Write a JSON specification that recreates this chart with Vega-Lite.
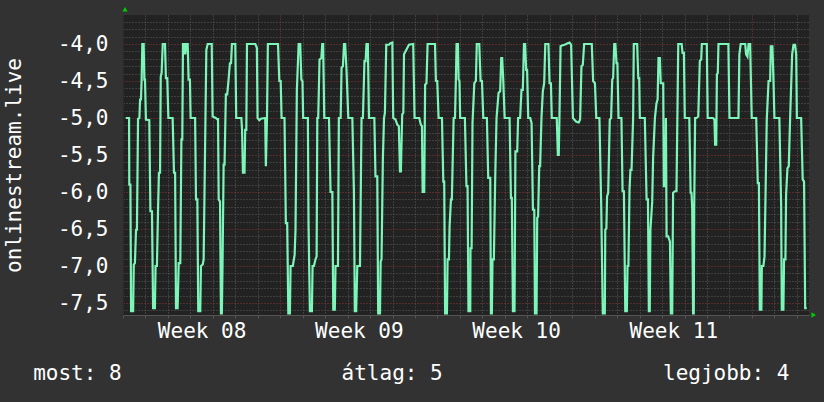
{
 "$schema": "https://vega.github.io/schema/vega-lite/v6.json",
 "width": 686,
 "height": 300,
 "autosize": {"type": "none"},
 "padding": {"left": 123, "top": 15, "right": 15, "bottom": 87},
 "background": "#323232",
 "config": {"view": {"fill": "#222222", "stroke": null}, "font": "DejaVu Sans Mono"},
 "resolve": {"axis": {"x": "independent", "y": "independent"}},
 "datasets": {
  "series": [
{"t":0.12,"v":-5},{"t":0.27,"v":-5},{"t":0.28,"v":-5.9},{"t":0.33,"v":-5.9},{"t":0.36,"v":-7.61},{"t":0.45,"v":-7.61},{"t":0.48,"v":-6.98},{"t":0.53,"v":-6.96},{"t":0.58,"v":-6.51},{"t":0.62,"v":-6.51},{"t":0.67,"v":-5.01},{"t":0.73,"v":-5},{"t":0.76,"v":-4.75},{"t":0.8,"v":-4.75},{"t":0.83,"v":-4.48},{"t":0.86,"v":-4},{"t":0.92,"v":-4},{"t":0.95,"v":-4.48},{"t":0.98,"v":-4.48},{"t":1.02,"v":-5.02},{"t":1.17,"v":-5.03},{"t":1.22,"v":-6.26},{"t":1.29,"v":-6.26},{"t":1.34,"v":-7.57},{"t":1.42,"v":-7.57},{"t":1.45,"v":-7},{"t":1.51,"v":-7},{"t":1.56,"v":-6.24},{"t":1.6,"v":-5.74},{"t":1.65,"v":-5.74},{"t":1.68,"v":-4.44},{"t":1.72,"v":-4.39},{"t":1.77,"v":-4},{"t":1.87,"v":-4},{"t":1.91,"v":-4.46},{"t":1.97,"v":-4.46},{"t":2.02,"v":-5},{"t":2.21,"v":-5},{"t":2.27,"v":-5.74},{"t":2.32,"v":-5.74},{"t":2.36,"v":-7.57},{"t":2.43,"v":-7.57},{"t":2.48,"v":-6.96},{"t":2.55,"v":-6.96},{"t":2.6,"v":-5.29},{"t":2.64,"v":-5.29},{"t":2.67,"v":-4},{"t":2.73,"v":-4},{"t":2.77,"v":-4.14},{"t":2.82,"v":-4},{"t":2.88,"v":-4},{"t":2.92,"v":-4.48},{"t":2.98,"v":-4.48},{"t":3.01,"v":-5},{"t":3.21,"v":-5},{"t":3.25,"v":-6.1},{"t":3.31,"v":-6.1},{"t":3.35,"v":-7.61},{"t":3.44,"v":-7.61},{"t":3.47,"v":-7},{"t":3.55,"v":-6.98},{"t":3.59,"v":-6.91},{"t":3.65,"v":-5.5},{"t":3.71,"v":-4.08},{"t":3.77,"v":-4},{"t":3.95,"v":-4},{"t":3.99,"v":-4.98},{"t":4.13,"v":-5},{"t":4.21,"v":-5.02},
{"t":4.23,"v":-5},{"t":4.26,"v":-6.1},{"t":4.32,"v":-6.13},{"t":4.36,"v":-7.64},{"t":4.4,"v":-7.64},{"t":4.43,"v":-7},{"t":4.48,"v":-5.63},{"t":4.52,"v":-5.63},{"t":4.58,"v":-4.68},{"t":4.64,"v":-4.68},{"t":4.7,"v":-4.48},{"t":4.76,"v":-4.26},{"t":4.81,"v":-4.26},{"t":4.85,"v":-4},{"t":5,"v":-4},{"t":5.04,"v":-5},{"t":5.27,"v":-5},{"t":5.3,"v":-5.16},{"t":5.34,"v":-5.74},{"t":5.41,"v":-5.74},{"t":5.44,"v":-5.16},{"t":5.49,"v":-5.16},{"t":5.52,"v":-4},{"t":5.89,"v":-4},{"t":5.96,"v":-4.05},{"t":5.99,"v":-5},{"t":6.07,"v":-5.03},{"t":6.14,"v":-5.01},{"t":6.33,"v":-5},{"t":6.36,"v":-5.65},{"t":6.41,"v":-5},{"t":6.45,"v":-4},{"t":6.9,"v":-4},{"t":6.96,"v":-4.5},{"t":7.02,"v":-4.5},{"t":7.06,"v":-5},{"t":7.19,"v":-5},{"t":7.25,"v":-6.42},{"t":7.31,"v":-6.42},{"t":7.36,"v":-7.64},{"t":7.43,"v":-7.64},{"t":7.46,"v":-7},{"t":7.56,"v":-7},{"t":7.64,"v":-6.85},{"t":7.68,"v":-6.51},{"t":7.74,"v":-4.62},{"t":7.82,"v":-4},{"t":7.89,"v":-4},{"t":7.94,"v":-4.48},{"t":7.99,"v":-4.5},{"t":8.02,"v":-5},{"t":8.23,"v":-5},{"t":8.26,"v":-6.44},{"t":8.32,"v":-7.61},{"t":8.41,"v":-7.61},{"t":8.44,"v":-7},{"t":8.5,"v":-7},{"t":8.57,"v":-6.91},{"t":8.62,"v":-6.87},{"t":8.65,"v":-5},{"t":8.69,"v":-5},{"t":8.75,"v":-4.21},{"t":8.83,"v":-4.19},{"t":8.87,"v":-4},{"t":8.91,"v":-4},{"t":8.96,"v":-5},{"t":9.17,"v":-5},{"t":9.24,"v":-6},{"t":9.32,"v":-6},{"t":9.36,"v":-7.59},{"t":9.43,"v":-7.59},{"t":9.46,"v":-7},{"t":9.57,"v":-7},{"t":9.61,"v":-5},{"t":9.69,"v":-5},{"t":9.73,"v":-4.32},{"t":9.79,"v":-4.3},{"t":9.84,"v":-4},{"t":9.89,"v":-4},{"t":9.95,"v":-4.35},{"t":10.03,"v":-5},{"t":10.21,"v":-5},{"t":10.28,"v":-5.99},{"t":10.32,"v":-7.61},{"t":10.38,"v":-7.61},{"t":10.43,"v":-7},{"t":10.55,"v":-7},{"t":10.62,"v":-5},{"t":10.68,"v":-5},{"t":10.75,"v":-4.23},{"t":10.8,"v":-4.23},{"t":10.84,"v":-4},{"t":10.9,"v":-4},{"t":10.95,"v":-5},{"t":11.19,"v":-5},{"t":11.24,"v":-5.79},{"t":11.32,"v":-5.79},{"t":11.36,"v":-7.64},{"t":11.44,"v":-7.64},{"t":11.47,"v":-6.94},{"t":11.51,"v":-6.91},{"t":11.57,"v":-5.54},{"t":11.62,"v":-5},{"t":11.66,"v":-4.93},{"t":11.72,"v":-4.01},{"t":11.84,"v":-4.01},{"t":11.91,"v":-3.99},{"t":11.99,"v":-3.98},{"t":12.03,"v":-5},{"t":12.13,"v":-5.02},{"t":12.21,"v":-5.09},{"t":12.28,"v":-5.11},{"t":12.33,"v":-5.72},{"t":12.37,"v":-5.72},{"t":12.43,"v":-4.95},{"t":12.48,"v":-4.93},{"t":12.51,"v":-4.14},{"t":12.61,"v":-4.08},{"t":12.73,"v":-4.01},{"t":12.92,"v":-4},{"t":12.98,"v":-5},{"t":13.19,"v":-5},{"t":13.26,"v":-5.09},{"t":13.31,"v":-5.11},{"t":13.34,"v":-6},{"t":13.41,"v":-6},{"t":13.45,"v":-4.55},{"t":13.51,"v":-4.53},{"t":13.56,"v":-4},{"t":13.89,"v":-4},{"t":13.93,"v":-4.5},{"t":13.99,"v":-4.5},{"t":14.05,"v":-5},{"t":14.2,"v":-5},{"t":14.26,"v":-5.86},{"t":14.3,"v":-5.86},{"t":14.34,"v":-7.64},{"t":14.42,"v":-7.64},{"t":14.45,"v":-6.91},{"t":14.51,"v":-6.91},{"t":14.54,"v":-6.46},{"t":14.6,"v":-6.1},{"t":14.64,"v":-6.1},{"t":14.72,"v":-5},{"t":14.78,"v":-5},{"t":14.82,"v":-4.48},{"t":14.85,"v":-4},{"t":14.91,"v":-4},{"t":14.94,"v":-4.48},{"t":14.98,"v":-4.5},{"t":15.01,"v":-5},{"t":15.22,"v":-5},{"t":15.29,"v":-5.92},{"t":15.34,"v":-5.92},{"t":15.38,"v":-7.61},{"t":15.46,"v":-7.61},{"t":15.47,"v":-6.76},{"t":15.52,"v":-6.76},{"t":15.56,"v":-5.07},{"t":15.64,"v":-4.53},{"t":15.71,"v":-4.5},{"t":15.75,"v":-4},{"t":15.86,"v":-4},{"t":15.92,"v":-4.5},{"t":15.98,"v":-4.5},{"t":16.04,"v":-5},{"t":16.2,"v":-5},{"t":16.26,"v":-5.81},{"t":16.35,"v":-5.81},{"t":16.38,"v":-7.64},{"t":16.42,"v":-7.64},{"t":16.45,"v":-6.91},{"t":16.51,"v":-6.91},{"t":16.57,"v":-5.81},{"t":16.63,"v":-5},{"t":16.72,"v":-4.66},{"t":16.79,"v":-4.64},{"t":16.84,"v":-4.19},{"t":16.88,"v":-4.19},{"t":16.93,"v":-4.5},{"t":16.99,"v":-5},{"t":17.21,"v":-5},{"t":17.27,"v":-6.08},{"t":17.31,"v":-6.08},{"t":17.36,"v":-7.61},{"t":17.43,"v":-7.61},{"t":17.47,"v":-5.45},{"t":17.55,"v":-5.45},{"t":17.59,"v":-5},{"t":17.68,"v":-5},{"t":17.74,"v":-4.62},{"t":17.8,"v":-4.62},{"t":17.85,"v":-4},{"t":17.9,"v":-4},{"t":17.95,"v":-4.35},{"t":17.99,"v":-4.35},{"t":18.04,"v":-5},{"t":18.13,"v":-5},{"t":18.19,"v":-5.07},{"t":18.25,"v":-6.24},{"t":18.31,"v":-6.24},{"t":18.34,"v":-7.64},{"t":18.41,"v":-7.64},{"t":18.44,"v":-6.35},{"t":18.48,"v":-6.33},{"t":18.53,"v":-5.65},{"t":18.57,"v":-5.65},{"t":18.63,"v":-5},{"t":18.69,"v":-4.64},{"t":18.75,"v":-4.53},{"t":18.8,"v":-4},{"t":18.94,"v":-4},{"t":18.99,"v":-4.53},{"t":19.05,"v":-4.53},{"t":19.09,"v":-5},{"t":19.31,"v":-5},{"t":19.36,"v":-5.5},{"t":19.4,"v":-5.5},{"t":19.43,"v":-5},{"t":19.48,"v":-4.03},{"t":19.54,"v":-4.02},{"t":19.66,"v":-4.01},{"t":19.8,"v":-3.99},{"t":19.88,"v":-3.98},{"t":19.95,"v":-4.01},{"t":20.03,"v":-5},{"t":20.18,"v":-5.05},{"t":20.29,"v":-5.06},{"t":20.35,"v":-5.02},{"t":20.41,"v":-4.3},{"t":20.47,"v":-4.28},{"t":20.53,"v":-4},{"t":20.87,"v":-4},{"t":20.93,"v":-4.5},{"t":21.01,"v":-4.53},{"t":21.07,"v":-5},{"t":21.21,"v":-5},{"t":21.29,"v":-6.19},{"t":21.36,"v":-7.64},{"t":21.45,"v":-7.64},{"t":21.47,"v":-6.51},{"t":21.52,"v":-6.49},{"t":21.55,"v":-6.06},{"t":21.6,"v":-6.01},{"t":21.67,"v":-5.02},{"t":21.73,"v":-5},{"t":21.78,"v":-4.48},{"t":21.82,"v":-4.46},{"t":21.87,"v":-4},{"t":21.92,"v":-4},{"t":21.97,"v":-4.26},{"t":22.01,"v":-4.26},{"t":22.06,"v":-5},{"t":22.19,"v":-5},{"t":22.24,"v":-5.99},{"t":22.3,"v":-5.99},{"t":22.36,"v":-7.61},{"t":22.43,"v":-7.61},{"t":22.46,"v":-7},{"t":22.5,"v":-7},{"t":22.55,"v":-5.97},{"t":22.59,"v":-5.7},{"t":22.64,"v":-5.7},{"t":22.71,"v":-5},{"t":22.74,"v":-4},{"t":22.89,"v":-4},{"t":22.94,"v":-4.46},{"t":22.98,"v":-4.46},{"t":23.01,"v":-5},{"t":23.23,"v":-5},{"t":23.31,"v":-6.1},{"t":23.37,"v":-6.1},{"t":23.41,"v":-7.61},{"t":23.45,"v":-7.61},{"t":23.48,"v":-6.51},{"t":23.56,"v":-6.13},{"t":23.6,"v":-5.54},{"t":23.68,"v":-5},{"t":23.75,"v":-4.8},{"t":23.8,"v":-4.75},{"t":23.84,"v":-4.19},{"t":23.9,"v":-4.19},{"t":23.94,"v":-4.53},{"t":24.05,"v":-4.53},{"t":24.08,"v":-5.92},{"t":24.15,"v":-5.92},{"t":24.17,"v":-5},{"t":24.2,"v":-6.6},{"t":24.27,"v":-6.6},{"t":24.35,"v":-6.67},{"t":24.39,"v":-7.64},{"t":24.45,"v":-7.64},{"t":24.49,"v":-6.01},{"t":24.57,"v":-5.99},{"t":24.64,"v":-5.99},{"t":24.72,"v":-4},{"t":24.87,"v":-4},{"t":24.91,"v":-4.12},{"t":24.97,"v":-4.12},{"t":25.01,"v":-5},{"t":25.21,"v":-5},{"t":25.27,"v":-6.01},{"t":25.31,"v":-6.01},{"t":25.34,"v":-6.22},{"t":25.38,"v":-7.64},{"t":25.41,"v":-7.64},{"t":25.43,"v":-6.22},{"t":25.47,"v":-5},{"t":25.53,"v":-5},{"t":25.61,"v":-4.98},{"t":25.68,"v":-4.23},{"t":25.74,"v":-4.21},{"t":25.77,"v":-4},{"t":25.99,"v":-4},{"t":26.03,"v":-5},{"t":26.26,"v":-5},{"t":26.33,"v":-5.02},{"t":26.36,"v":-5.36},{"t":26.41,"v":-5.36},{"t":26.44,"v":-4.41},{"t":26.48,"v":-4.39},{"t":26.51,"v":-4},{"t":26.95,"v":-4},{"t":27,"v":-5},{"t":27.4,"v":-5},{"t":27.44,"v":-4.14},{"t":27.5,"v":-4},{"t":27.7,"v":-4},{"t":27.74,"v":-4.14},{"t":27.8,"v":-4.17},{"t":27.85,"v":-4},{"t":27.92,"v":-4},{"t":27.99,"v":-5},{"t":28.19,"v":-5},{"t":28.26,"v":-5.88},{"t":28.31,"v":-5.88},{"t":28.35,"v":-7.59},{"t":28.42,"v":-7.59},{"t":28.44,"v":-7},{"t":28.51,"v":-7},{"t":28.56,"v":-6.87},{"t":28.66,"v":-5.02},{"t":28.74,"v":-4.5},{"t":28.81,"v":-4.5},{"t":28.84,"v":-4.03},{"t":28.91,"v":-4.03},{"t":28.96,"v":-4.5},{"t":29,"v":-5},{"t":29.22,"v":-5},{"t":29.3,"v":-6.19},{"t":29.33,"v":-7.59},{"t":29.4,"v":-7.59},{"t":29.43,"v":-6.91},{"t":29.49,"v":-6.91},{"t":29.52,"v":-6.04},{"t":29.58,"v":-5.68},{"t":29.64,"v":-5.65},{"t":29.7,"v":-5},{"t":29.79,"v":-4.14},{"t":29.85,"v":-4.01},{"t":29.92,"v":-4.01},{"t":29.97,"v":-4.14},{"t":30,"v":-5},{"t":30.19,"v":-5},{"t":30.26,"v":-5.83},{"t":30.32,"v":-5.86},{"t":30.37,"v":-7.57},{"t":30.44,"v":-7.57}
  ],
  "legend": [
   {"label": "most: 8", "t": -4.0, "v": -8.459},
   {"label": "átlag: 5", "t": 9.73, "v": -8.459},
   {"label": "legjobb: 4", "t": 24.04, "v": -8.459}
  ],
  "arrows": [
   {"t": 0.09, "v": -3.53, "shape": "triangle-up"},
   {"t": 30.75, "v": -7.662, "shape": "triangle-right"}
  ]
 },
 "layer": [
  {
   "data": {"name": "series"},
   "mark": {"type": "line", "color": "#7cf5b8", "strokeWidth": 2.2, "clip": true},
   "encoding": {
    "x": {
     "field": "t", "type": "quantitative",
     "scale": {"domain": [0, 30.54], "nice": false, "zero": false},
     "axis": {
      "orient": "bottom",
      "title": null,
      "values": [0,1,2,3,4,5,6,7,8,9,10,11,12,13,14,15,16,17,18,19,20,21,22,23,24,25,26,27,28,29,30,3.5,10.5,17.5,24.5],
      "grid": true,
      "gridColor": {"condition": {"test": "datum.value % 7 === 0", "value": "#8a3535"}, "value": "#5c5c5c"},
      "gridOpacity": {"condition": {"test": "datum.value % 1 > 0.25", "value": 0}, "value": 1},
      "gridDash": [1, 2],
      "gridWidth": 1,
      "domainColor": "#555555",
      "tickColor": "#555555",
      "tickSize": 3,
      "tickOpacity": {"condition": {"test": "datum.value % 1 > 0.25", "value": 0}, "value": 1},
      "labelExpr": "datum.value % 1 > 0.25 ? 'Week ' + format(8 + floor(datum.value / 7), '02d') : ''",
      "labelFont": "DejaVu Sans Mono",
      "labelFontSize": 21,
      "labelColor": "#ffffff",
      "labelPadding": 2,
      "labelOverlap": false,
      "labelBound": false,
      "labelFlush": false
     }
    },
    "y": {
     "field": "v", "type": "quantitative",
     "scale": {"domain": [-7.662, -3.608], "nice": false, "zero": false},
     "axis": {
      "orient": "left",
      "title": "onlinestream.live",
      "values": [-7.6,-7.5,-7.4,-7.3,-7.2,-7.1,-7.0,-6.9,-6.8,-6.7,-6.6,-6.5,-6.4,-6.3,-6.2,-6.1,-6.0,-5.9,-5.8,-5.7,-5.6,-5.5,-5.4,-5.3,-5.2,-5.1,-5.0,-4.9,-4.8,-4.7,-4.6,-4.5,-4.4,-4.3,-4.2,-4.1,-4.0,-3.9,-3.8,-3.7],
      "grid": true,
      "gridColor": {"condition": {"test": "abs(datum.value * 2 - round(datum.value * 2)) < 0.001", "value": "#8a3535"}, "value": "#5c5c5c"},
      "gridDash": [1, 2],
      "gridWidth": 1,
      "ticks": false,
      "domainColor": "#2a2a2a",
      "labelExpr": "abs(datum.value * 2 - round(datum.value * 2)) < 0.001 ? replace(replace(format(datum.value, '.1f'), '.', ','), '−', '-') : ''",
      "labelFont": "DejaVu Sans Mono",
      "labelFontSize": 21,
      "labelColor": "#ffffff",
      "labelPadding": 15,
      "labelOverlap": false,
      "labelBound": false,
      "labelFlush": false,
      "titleFont": "DejaVu Sans Mono",
      "titleFontSize": 21,
      "titleFontWeight": "normal",
      "titleColor": "#ffffff",
      "titlePadding": 33
     }
    }
   }
  },
  {
   "data": {"name": "legend"},
   "mark": {"type": "text", "align": "left", "baseline": "middle", "fontSize": 21, "font": "DejaVu Sans Mono", "color": "#ffffff"},
   "encoding": {
    "x": {"field": "t", "type": "quantitative", "axis": null},
    "y": {"field": "v", "type": "quantitative", "axis": null},
    "text": {"field": "label"}
   }
  },
  {
   "data": {"name": "arrows"},
   "mark": {"type": "point", "filled": true, "size": 28, "color": "#00cc00", "opacity": 1},
   "encoding": {
    "x": {"field": "t", "type": "quantitative", "axis": null},
    "y": {"field": "v", "type": "quantitative", "axis": null},
    "shape": {"field": "shape", "type": "nominal", "scale": null, "legend": null}
   }
  }
 ]
}
